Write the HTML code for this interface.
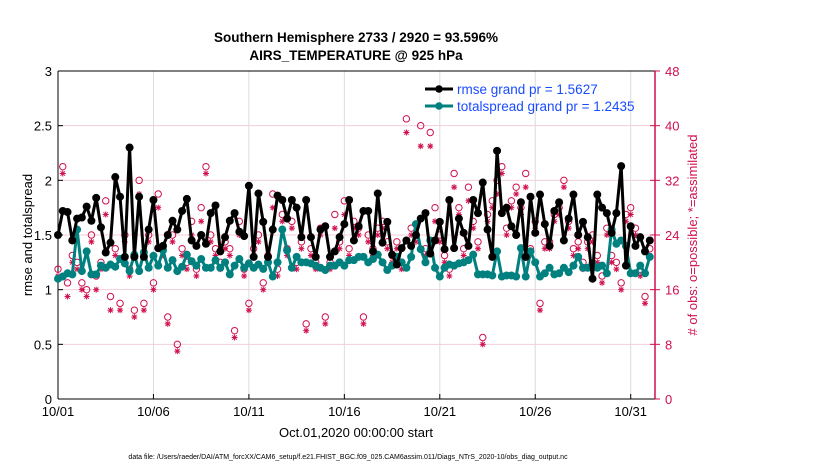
<!DOCTYPE html>
<html><head><meta charset="utf-8"><style>
body{margin:0;background:#fff;width:830px;height:470px;overflow:hidden;font-family:"Liberation Sans",sans-serif}
svg text{font-family:"Liberation Sans",sans-serif}
</style></head><body>
<svg id="chart" width="830" height="470" xmlns="http://www.w3.org/2000/svg">
<g id="grid"></g>
<g id="axes"></g>
<g id="marks"></g>
<text x="356" y="42" text-anchor="middle" font-size="13.5" font-weight="bold">Southern Hemisphere 2733 / 2920 = 93.596%</text>
<text x="356" y="60" text-anchor="middle" font-size="13.5" font-weight="bold">AIRS_TEMPERATURE @ 925 hPa</text>
<text transform="translate(32,235) rotate(-90)" text-anchor="middle" font-size="13">rmse and totalspread</text>
<text transform="translate(697,235) rotate(-90)" text-anchor="middle" font-size="13" fill="#d0104c"># of obs: o=possible; *=assimilated</text>
<text x="356" y="437" text-anchor="middle" font-size="13">Oct.01,2020 00:00:00 start</text>
<text x="348" y="459" text-anchor="middle" font-size="7">data file: /Users/raeder/DAI/ATM_forcXX/CAM6_setup/f.e21.FHIST_BGC.f09_025.CAM6assim.011/Diags_NTrS_2020-10/obs_diag_output.nc</text>
<g>
<line x1="425" y1="89" x2="453" y2="89" stroke="#000" stroke-width="3"/><circle cx="439" cy="89" r="3.8" fill="#000"/>
<text x="457" y="94" font-size="13.5" fill="#1a4cff">rmse grand pr = 1.5627</text>
<line x1="425" y1="106" x2="453" y2="106" stroke="#00807f" stroke-width="3"/><circle cx="439" cy="106" r="3.8" fill="#00807f"/>
<text x="457" y="111" font-size="13.5" fill="#1a4cff">totalspread grand pr = 1.2435</text>
</g>
</svg>
<script>
const rmse=[1.50,1.72,1.71,1.45,1.65,1.66,1.76,1.63,1.84,1.57,
1.34,1.43,2.03,1.85,1.30,2.30,1.30,1.85,1.30,1.55,
1.82,1.38,1.40,1.50,1.63,1.55,1.72,1.83,1.45,1.40,
1.50,1.42,1.70,1.77,1.35,1.48,1.63,1.70,1.53,1.49,
1.95,1.30,1.88,1.62,1.30,1.55,1.86,1.82,1.65,1.82,
1.75,1.48,1.82,1.48,1.30,1.55,1.58,1.30,1.35,1.48,
1.60,1.82,1.45,1.58,1.72,1.72,1.35,1.88,1.43,1.62,
1.32,1.23,1.38,1.45,1.40,1.50,1.65,1.70,
1.33,1.45,1.62,1.37,1.82,1.38,1.65,1.52,
1.40,1.82,1.70,1.98,1.55,1.30,2.27,1.70,1.75,1.58,
1.50,1.80,1.30,1.85,1.52,1.87,1.60,1.40,1.72,1.80,
1.45,1.65,1.87,1.50,1.62,1.48,1.10,1.87,1.75,1.70,
1.52,1.70,2.13,1.22,1.58,1.40,1.48,1.35,1.45];
const spread=[1.10,1.12,1.15,1.14,1.55,1.17,1.35,1.14,1.14,1.22,
1.20,1.23,1.21,1.28,1.24,1.17,1.32,1.17,1.34,1.20,
1.31,1.22,1.36,1.20,1.27,1.17,1.21,1.32,1.26,1.22,
1.28,1.20,1.20,1.27,1.20,1.25,1.14,1.22,1.28,1.20,
1.24,1.20,1.23,1.19,1.25,1.12,1.25,1.55,1.36,1.20,
1.30,1.25,1.25,1.24,1.22,1.20,1.18,1.22,1.22,1.25,
1.22,1.27,1.27,1.30,1.30,1.25,1.28,1.32,1.25,1.18,
1.22,1.30,1.25,1.20,1.30,1.60,1.37,1.25,1.45,1.20,
1.12,1.20,1.23,1.22,1.24,1.25,1.27,1.32,1.14,1.14,
1.14,1.13,1.35,1.12,1.13,1.13,1.12,1.38,1.12,1.35,
1.25,1.12,1.15,1.20,1.14,1.15,1.20,1.16,1.22,1.30,
1.20,1.20,1.24,1.20,1.22,1.15,1.55,1.42,1.45,1.40,
1.15,1.15,1.22,1.15,1.30];
const obsPossible=[19,34,17,21,20,17,16,24,18,20,29,15,22,14,24,19,13,32,14,24,17,30,22,12,24,8,22,20,26,19,28,34,24,22,20,23,22,10,26,19,14,22,24,17,21,30,19,27,22,26,20,23,11,22,20,25,12,20,27,23,29,22,26,25,12,24,22,25,26,23,21,23,20,41,25,24,40,22,39,28,24,21,19,33,28,22,31,26,23,9,27,29,32,34,25,29,31,28,33,22,26,14,23,23,27,28,32,26,22,23,20,23,24,21,18,25,21,20,17,27,28,25,19,15,22];
const obsAssim=[18,33,15,20,19,16,15,23,16,19,27,13,21,13,23,18,12,30,13,23,16,28,21,11,23,7,21,19,24,18,26,33,23,21,19,22,21,9,24,18,13,21,23,16,20,28,18,26,21,25,19,22,10,21,19,24,11,19,25,22,27,21,25,24,11,23,21,24,25,22,20,22,19,39,24,23,37,21,37,26,23,20,18,31,27,21,29,25,22,8,26,28,30,33,24,28,30,27,31,21,25,13,22,22,26,27,31,25,21,22,19,22,23,20,17,24,20,19,16,26,27,24,18,14,21];
const xTickLabels=["10/01","10/06","10/11","10/16","10/21","10/26","10/31"];
const xTickDays=[0,5,10,15,20,25,30];
const yLeftTicks=["0","0.5","1","1.5","2","2.5","3"];
const yRightTicks=["0","8","16","24","32","40","48"];
const stepDays=0.25;

const L=58,R=655,T=71,B=399;
const X=d=>L+d*19.09;
const YL=v=>B-v/3*(B-T);
const YR=v=>B-v/48*(B-T);
const NS="http://www.w3.org/2000/svg";
function mk(parent,tag,at){const e=document.createElementNS(NS,tag);for(const k in at)e.setAttribute(k,at[k]);parent.appendChild(e);return e;}
const grid=document.getElementById('grid'),axes=document.getElementById('axes'),marks=document.getElementById('marks');

xTickDays.forEach((d,i)=>{
  const g=mk(grid,'line',{x1:X(d),x2:X(d),y1:T,y2:B,stroke:'#dcdcdc','stroke-width':1});
  
  
  mk(axes,'line',{x1:X(d),x2:X(d),y1:B,y2:B-5,stroke:'#000'});
  const t=mk(axes,'text',{x:X(d),y:B+17,'text-anchor':'middle','font-size':13});
  t.textContent=xTickLabels[i];
  
  
});
yLeftTicks.forEach((lab,i)=>{
  const y=YL(parseFloat(lab));
  if(i>0&&i<yLeftTicks.length-1){
    const g=mk(grid,'line',{x1:L,x2:R,y1:y,y2:y,stroke:'#f3cfd9','stroke-width':1});
    
    
  }
  mk(axes,'line',{x1:L,x2:L+5,y1:y,y2:y,stroke:'#000'});
  const t=mk(axes,'text',{x:L-6,y:y+5,'text-anchor':'end','font-size':13});
  t.textContent=lab;
  
  
});
yRightTicks.forEach(lab=>{
  const y=YR(parseFloat(lab));
  mk(axes,'line',{x1:R,x2:R-5,y1:y,y2:y,stroke:'#d0104c'});
  mk(axes,'line',{x1:R,x2:R+5,y1:y,y2:y,stroke:'#d0104c'});
  const t=mk(axes,'text',{x:R+10,y:y+5,'font-size':13,fill:'#d0104c'});
  t.textContent=lab;
  
  
});
mk(axes,'line',{x1:L,x2:R,y1:T,y2:T,stroke:'#000'});
mk(axes,'line',{x1:L,x2:R,y1:B,y2:B,stroke:'#000'});
mk(axes,'line',{x1:L,x2:L,y1:T,y2:B,stroke:'#000'});
mk(axes,'line',{x1:R,x2:R,y1:T,y2:B,stroke:'#d0104c','stroke-width':1.5});

function star(x,y){
  const g=mk(marks,'g',{stroke:'#d0104c','stroke-width':1});
  
  
  const r=3;
  mk(g,'line',{x1:x,x2:x,y1:y-r,y2:y+r});
  mk(g,'line',{x1:x-r,x2:x+r,y1:y,y2:y});
  mk(g,'line',{x1:x-2.2,x2:x+2.2,y1:y-2.2,y2:y+2.2});
  mk(g,'line',{x1:x-2.2,x2:x+2.2,y1:y+2.2,y2:y-2.2});
}
obsPossible.forEach((v,i)=>{
  const c=mk(marks,'circle',{cx:X(i*stepDays),cy:YR(v),r:3.2,fill:'none',stroke:'#d0104c','stroke-width':1});
  
  
});
obsAssim.forEach((v,i)=>star(X(i*stepDays),YR(v)));

function series(arr,color,name){
  const p=mk(marks,'polyline',{points:arr.map((v,i)=>X(i*stepDays)+','+YL(v)).join(' '),fill:'none',stroke:color,'stroke-width':3,'stroke-linejoin':'round'});
  
  
  arr.forEach((v,i)=>{
    const c=mk(marks,'circle',{cx:X(i*stepDays),cy:YL(v),r:4,fill:color});
    
    
  });
}
series(spread,'#00807f','totalspread');
series(rmse,'#000000','rmse');
</script>
</body></html>
